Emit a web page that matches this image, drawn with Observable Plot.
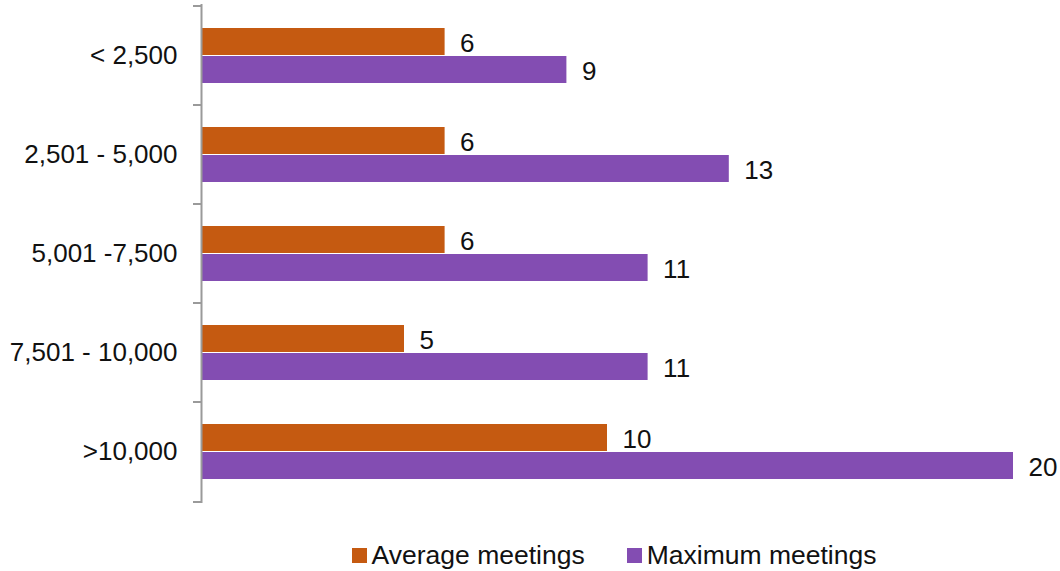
<!DOCTYPE html>
<html>
<head>
<meta charset="utf-8">
<script src="https://cdn.jsdelivr.net/npm/d3@7"></script>
<script src="https://cdn.jsdelivr.net/npm/@observablehq/plot@0.6"></script>
<style>
  body { margin: 0; background: #ffffff; font-family: "Liberation Sans", Arial, sans-serif; }
  #legend { width: 1060px; height: 41px; box-sizing: border-box; padding-left: 168px; padding-top: 9px;
            display: flex; justify-content: center; align-items: center; gap: 42px; font-size: 26.5px; line-height: 30px; color: #111; }
  .item { display: flex; align-items: center; }
  .sw { width: 15px; height: 15px; margin-right: 5px; display: inline-block; }
</style>
</head>
<body>
<div id="chart"></div>
<div id="legend"></div>
<script>
const categories = ["< 2,500", "2,501 - 5,000", "5,001 -7,500", "7,501 - 10,000", ">10,000"];
const average = [6, 6, 6, 5, 10];
const maximum = [9, 13, 11, 11, 20];
const seriesNames = ["Average meetings", "Maximum meetings"];
const seriesColors = ["#C55A11", "#834DB2"];

const avgData = categories.map((c, i) => ({category: c, value: average[i]}));
const maxData = categories.map((c, i) => ({category: c, value: maximum[i]}));

const plot = Plot.plot({
  width: 1060,
  height: 530,
  marginLeft: 201,
  marginRight: 47,
  marginTop: 4,
  marginBottom: 27,
  style: {fontFamily: "'Liberation Sans', Arial, sans-serif", fontSize: "26px", color: "#111", background: "transparent"},
  x: {domain: [0, 20], axis: null},
  y: {domain: categories, padding: 0, label: null},
  marks: [
    Plot.barX(avgData, {x: "value", y: "category", fill: seriesColors[0], insetTop: 22, insetBottom: 50}),
    Plot.barX(maxData, {x: "value", y: "category", fill: seriesColors[1], insetTop: 50, insetBottom: 22}),
    Plot.text(avgData, {x: "value", y: "category", text: d => String(d.value), textAnchor: "start", dx: 15, dy: -12, fontSize: 26, fill: "#111"}),
    Plot.text(maxData, {x: "value", y: "category", text: d => String(d.value), textAnchor: "start", dx: 15, dy: 16, fontSize: 26, fill: "#111"}),
    Plot.axisY({tickSize: 0, tickPadding: 24, fontSize: 26, label: null}),
    Plot.axisY({tickSize: 8, text: null, dy: -50, stroke: "#9a9a9a", strokeWidth: 2, label: null}),
    Plot.axisY({ticks: [categories[categories.length - 1]], tickSize: 8, text: null, dy: 50, stroke: "#9a9a9a", strokeWidth: 2, label: null}),
    Plot.ruleX([0], {stroke: "#9a9a9a", strokeWidth: 2})
  ]
});
document.getElementById("chart").appendChild(plot);

const legend = document.getElementById("legend");
seriesNames.forEach((name, i) => {
  const item = document.createElement("div");
  item.className = "item";
  const sw = document.createElement("span");
  sw.className = "sw";
  sw.style.background = seriesColors[i];
  item.appendChild(sw);
  item.appendChild(document.createTextNode(name));
  legend.appendChild(item);
});
</script>
</body>
</html>
